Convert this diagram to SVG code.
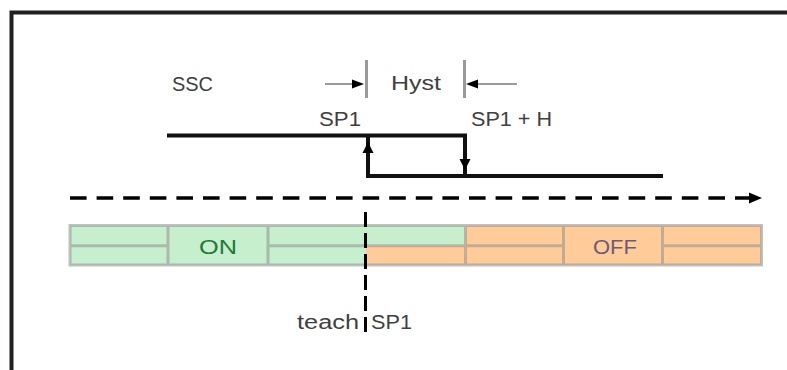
<svg xmlns="http://www.w3.org/2000/svg" width="787" height="370" viewBox="0 0 787 370">
  <style>
    .lbl { font-family: "Liberation Sans", Arial, sans-serif; font-size: 20px; fill: #404040; }
    .frame { stroke: #231f20; stroke-width: 4; fill: none; }
    .sig { stroke: #111; stroke-width: 4; fill: none; }
    .tick { stroke: #9a9a9a; stroke-width: 3; fill: none; }
    .dimline { stroke: #9a9a9a; stroke-width: 2; fill: none; }
    .grid { stroke: #919191; stroke-opacity: 0.56; stroke-width: 3; fill: none; }
    .head { fill: #000; }
  </style>
  <rect width="787" height="370" fill="#fff"/>
  <g id="frame">
    <path class="frame" d="M11.5 370 V12.5 H787"/>
  </g>
  <g id="bar">
    <rect x="70" y="225.5" width="98" height="39.5" fill="#C6EFCE"/>
    <rect x="168" y="225.5" width="100" height="39.5" fill="#C6EFCE"/>
    <rect x="268" y="225.5" width="197.5" height="20.3" fill="#C6EFCE"/>
    <rect x="268" y="245.8" width="98" height="19.2" fill="#C6EFCE"/>
    <rect x="366" y="245.8" width="99.5" height="19.2" fill="#FFCC99"/>
    <rect x="465.5" y="225.5" width="296" height="39.5" fill="#FFCC99"/>
    <path class="grid" d="M70 225.5 H761.5 V265 H70 Z M168 225.5 V265 M268 225.5 V265 M465.5 225.5 V265 M563.5 225.5 V265 M662.5 225.5 V265 M70 245.8 H168 M268 245.8 H563.5 M662.5 245.8 H761.5"/>
    <text class="lbl" x="199" y="254" textLength="38" lengthAdjust="spacingAndGlyphs" style="fill:#1f7a35">ON</text>
    <text class="lbl" x="593" y="254" textLength="44" lengthAdjust="spacingAndGlyphs" style="fill:#6e5a78">OFF</text>
  </g>
  <g id="labels">
    <text class="lbl" x="172" y="91" textLength="41" lengthAdjust="spacingAndGlyphs">SSC</text>
    <text class="lbl" x="391" y="90" textLength="50" lengthAdjust="spacingAndGlyphs">Hyst</text>
    <text class="lbl" x="319" y="126" textLength="42" lengthAdjust="spacingAndGlyphs">SP1</text>
    <text class="lbl" x="471" y="126" textLength="81" lengthAdjust="spacingAndGlyphs">SP1 + H</text>
    <text class="lbl" x="297" y="329" textLength="62" lengthAdjust="spacingAndGlyphs">teach</text>
    <text class="lbl" x="371" y="329" textLength="41" lengthAdjust="spacingAndGlyphs">SP1</text>
  </g>
  <g id="connectors">
    <!-- hysteresis dimension -->
    <path class="tick" d="M366.5 60 V98 M464.5 60 V98"/>
    <path class="dimline" d="M325 84 H354 M476 84 H517"/>
    <polygon class="head" points="364,84 352,79.5 352,88.5"/>
    <polygon class="head" points="466,84 478,79.5 478,88.5"/>
    <!-- switching signal -->
    <path class="sig" d="M167 135.5 H465 V176 H663"/>
    <path class="sig" d="M368 135.5 V176 H465"/>
    <polygon class="head" points="368,142 362.5,153 373.5,153"/>
    <polygon class="head" points="465,170 459.5,159 470.5,159"/>
    <!-- axis -->
    <path d="M70 198 H751" stroke="#000" stroke-width="3.5" stroke-dasharray="16.6 10" fill="none"/>
    <polygon class="head" points="762,198 749,192.5 749,203.5"/>
    <!-- teach marker -->
    <path d="M365.5 212 V337" stroke="#000" stroke-width="3" stroke-dasharray="15 6" fill="none"/>
  </g>
</svg>
